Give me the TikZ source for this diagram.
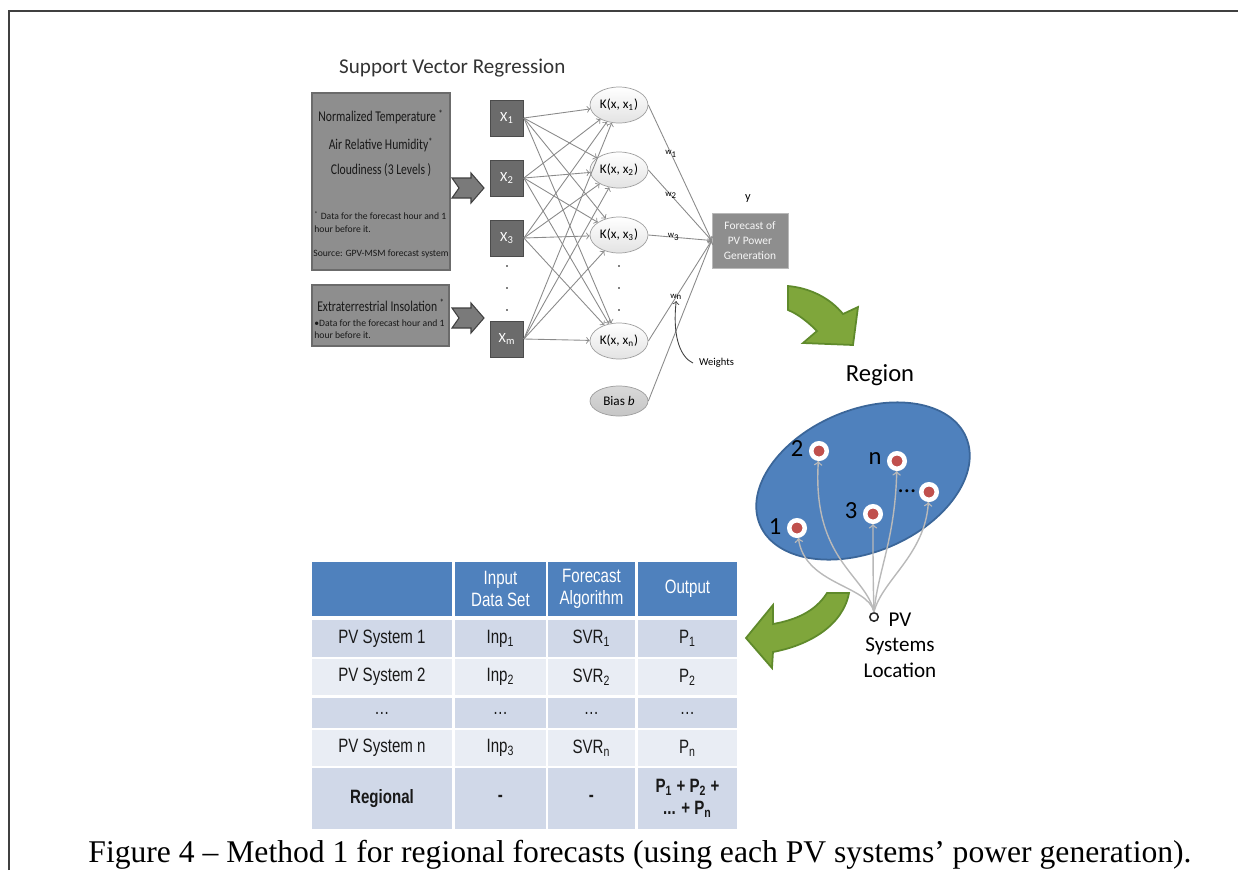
\documentclass[tikz,border=0pt]{standalone}
\usepackage{fontspec}
\setmainfont{Carlito}
\newfontfamily\narrowfont[FakeStretch=0.78]{Carlito}
\newfontfamily\tabfont[FakeStretch=0.78]{Liberation Sans}
\newfontfamily\capfont{Liberation Serif}
\usetikzlibrary{shapes.geometric}
\definecolor{boxgray}{HTML}{8E8E8E}
\definecolor{xgray}{HTML}{6B6B6B}
\definecolor{linegray}{HTML}{8A8A8A}
\definecolor{regionblue}{HTML}{4F81BD}
\definecolor{regionedge}{HTML}{3B6699}
\definecolor{sitered}{HTML}{C0504D}
\definecolor{arrowgreen}{HTML}{7FA63B}
\definecolor{arrowedge}{HTML}{5F8A2B}
\definecolor{rowdark}{HTML}{D0D8E8}
\definecolor{rowlight}{HTML}{E9EDF4}
\tikzset{
  databox/.style={draw=xgray, fill=boxgray, line width=0.8pt, inner sep=0pt},
  boxline/.style={text=black!90, font=\narrowfont\fontsize{8.5}{10}\selectfont},
  boxnote/.style={text=black!90, align=left, inner sep=0pt, font=\fontsize{5.5}{7}\selectfont},
  xnode/.style={draw=xgray!70!black, fill=xgray, text=white, minimum width=0.66cm, minimum height=0.72cm, inner sep=0pt, font=\fontsize{8}{9}\selectfont},
  knode/.style={ellipse, draw=gray!75, top color=white, bottom color=gray!22, minimum width=1.16cm, minimum height=0.72cm, inner sep=0pt, font=\fontsize{7.5}{9}\selectfont},
  conn/.style={draw=linegray, line width=0.5pt, ->},
  wlabel/.style={font=\fontsize{5}{6}\selectfont, inner sep=0.5pt},
  blockarrow/.style={fill=xgray!90, draw=xgray!60!black, line width=0.6pt},
  greenarrow/.style={fill=arrowgreen, draw=arrowedge, line width=1pt},
  site/.style={circle, fill=sitered, draw=white, line width=0.09cm, minimum size=0.31cm, inner sep=0pt},
  siteno/.style={font=\fontsize{14}{16}\selectfont},
  feed/.style={draw=gray!55, line width=0.8pt, ->},
  cell/.style={minimum height=#1, inner sep=0pt, align=center, text=black!90, font=\tabfont\fontsize{11}{12.5}\selectfont}
}
\begin{document}
\begin{tikzpicture}[x=0.02cm, y=-0.02cm]
\useasboundingbox (0,0) rectangle (1238,870);
\draw[line width=0.04cm, black!75] (9,870) -- (9,11) -- (1238,11);

\node[anchor=west, text=black!80, font=\fontsize{12}{14}\selectfont] (title) at (333,68) {Support Vector Regression};

\node[databox, minimum width=2.76cm, minimum height=3.54cm] (box1) at (381,181.5) {};
\node[boxline] (t11) at (381,117) {Normalized Temperature \textsuperscript{*}};
\node[boxline] (t12) at (381,145) {Air Relative Humidity\textsuperscript{*}};
\node[boxline] (t13) at (381,170) {Cloudiness\,(3 Levels\,)};
\node[boxnote, anchor=west] (t14) at (314,222) {\textsuperscript{*} Data for the forecast hour and 1\\hour before it.};
\node[boxnote] (t15) at (381,254) {Source: GPV-MSM forecast system};

\node[databox, minimum width=2.74cm, minimum height=1.22cm] (box2) at (380.5,315.5) {};
\node[boxline] (t21) at (381,305) {Extraterrestrial Insolation \textsuperscript{*}};
\node[boxnote, anchor=west] (t22) at (314,329) {\textbullet Data for the forecast hour and 1\\hour before it.};

\foreach \yc in {188,318}
  \filldraw[blockarrow] (452,\yc-10) -- (471,\yc-10) -- (471,\yc-15) -- (484,\yc) -- (471,\yc+15) -- (471,\yc+10) -- (452,\yc+10) -- (459,\yc) -- cycle;

\node[xnode] (x1) at (507,118) {X\textsubscript{1}};
\node[xnode] (x2) at (507,178) {X\textsubscript{2}};
\node[xnode] (x3) at (507,238) {X\textsubscript{3}};
\node[xnode] (xm) at (507,339) {X\textsubscript{m}};
\foreach \y in {266,288,310}
  {\fill (507,\y) circle (0.5pt);
   \fill (619,\y) circle (0.5pt);
  }

\node[knode] (k1) at (619,105) {K(x, x\textsubscript{1})};
\node[knode] (k2) at (619,170) {K(x, x\textsubscript{2})};
\node[knode] (k3) at (619,235) {K(x, x\textsubscript{3})};
\node[knode] (kn) at (619,341) {K(x, x\textsubscript{n})};
\node[knode, fill=gray!40, top color=gray!30, bottom color=gray!45, minimum height=0.6cm] (bias) at (619,401) {Bias \textit{b}};

\foreach \i in {x1,x2,x3,xm}
  \foreach \j in {k1,k2,k3,kn}
    \draw[conn] (\i.east) -- (\j);

\node[draw=gray!55, fill=boxgray, text=white!93!gray, minimum width=1.52cm, minimum height=1.1cm, align=center, inner sep=0pt, font=\fontsize{6.5}{8.5}\selectfont] (fc) at (750,240.5) {Forecast of\\PV Power\\Generation};
\node[font=\fontsize{7}{8}\selectfont] (y) at (748,199) {y};

\draw[conn] (k1.east) -- node[wlabel, pos=.36] (w1) {w\textsubscript{1}} (fc.west);
\draw[conn] (k2.east) -- node[wlabel, pos=.36] (w2) {w\textsubscript{2}} (fc.west);
\draw[conn] (k3.east) -- node[wlabel, pos=.40] (w3) {w\textsubscript{3}} (fc.west);
\draw[conn] (kn.east) -- node[wlabel, pos=.44] (wn) {w\textsubscript{n}} (fc.west);
\draw[conn] (bias.east) -- (fc.west);

\node[anchor=west, font=\fontsize{6}{7}\selectfont] (wts) at (693,363) {Weights};
\draw[->, black!75, line width=0.5pt] (wts.west) .. controls (682,358) and (672,340) .. (wn.south);

\filldraw[greenarrow] (788,286) .. controls (810,288) and (830,298) .. (843,314) -- (858,307) -- (853,345) -- (803,343) -- (817,331) .. controls (808,322) and (798,314) .. (788,310) -- cycle;

\node[font=\fontsize{14}{16}\selectfont] (regtitle) at (880,375) {Region};
\node[ellipse, rotate=23, draw=regionedge, fill=regionblue, line width=1pt, minimum width=4.48cm, minimum height=2.84cm] (region) at (863,481) {};

\node[site] (s1) at (797,528) {};
\node[site] (s2) at (819,451) {};
\node[site] (s3) at (873,514) {};
\node[site] (sn) at (897,461) {};
\node[site] (sd) at (929,492) {};
\node[siteno] (l1) at (775,527) {1};
\node[siteno] (l2) at (797,449) {2};
\node[siteno] (l3) at (851,511) {3};
\node[siteno] (ln) at (875,459) {n};
\node[siteno] (ld) at (907,491) {...};

\node[circle, draw=black!85, fill=white, line width=0.03cm, minimum size=0.17cm, inner sep=0pt] (loc) at (874,617) {};
\node[align=center, font=\fontsize{12}{14.5}\selectfont] (loctext) at (900,645) {PV\\Systems\\Location};

\draw[feed] (loc.north) .. controls (868,585) and (805,585) .. (s1);
\draw[feed] (loc.north) .. controls (866,575) and (812,560) .. (s2);
\draw[feed] (loc.north) .. controls (873,580) and (873,560) .. (s3);
\draw[feed] (loc.north) .. controls (878,570) and (895,540) .. (sn);
\draw[feed] (loc.north) .. controls (882,580) and (925,555) .. (sd);

\filldraw[greenarrow] (827,593) .. controls (815,612) and (795,620) .. (773,624) -- (773,605) -- (746,638) -- (772,668) -- (773,652) .. controls (810,645) and (843,625) .. (849,593) -- cycle;

\node[cell=1.08cm, fill=regionblue, minimum width=2.8cm] (h1) at (382,589) {};
\node[cell=1.08cm, fill=regionblue, text=white, minimum width=1.82cm] (h2) at (500.5,589) {Input\\Data Set};
\node[cell=1.08cm, fill=regionblue, text=white, minimum width=1.74cm] (h3) at (591.5,589) {Forecast\\Algorithm};
\node[cell=1.08cm, fill=regionblue, text=white, minimum width=1.98cm] (h4) at (687.5,589) {Output};

\foreach \rw/\yc/\rowh/\rowcol/\ca/\cb/\cc/\cd in {
  1/638.5/0.74cm/rowdark/PV System 1/Inp\textsubscript{1}/SVR\textsubscript{1}/P\textsubscript{1},
  2/677/0.72cm/rowlight/PV System 2/Inp\textsubscript{2}/SVR\textsubscript{2}/P\textsubscript{2},
  3/713/0.6cm/rowdark/\dots/\dots/\dots/\dots,
  4/748/0.72cm/rowlight/PV System n/Inp\textsubscript{3}/SVR\textsubscript{n}/P\textsubscript{n}}
  {\node[cell=\rowh, fill=\rowcol, minimum width=2.8cm] (r\rw c1) at (382,\yc) {\ca};
   \node[cell=\rowh, fill=\rowcol, minimum width=1.82cm] (r\rw c2) at (500.5,\yc) {\cb};
   \node[cell=\rowh, fill=\rowcol, minimum width=1.74cm] (r\rw c3) at (591.5,\yc) {\cc};
   \node[cell=\rowh, fill=\rowcol, minimum width=1.98cm] (r\rw c4) at (687.5,\yc) {\cd};
  }
\node[cell=1.22cm, fill=rowdark, minimum width=2.8cm] (r5c1) at (382,798.5) {\bfseries Regional};
\node[cell=1.22cm, fill=rowdark, minimum width=1.82cm] (r5c2) at (500.5,798.5) {\bfseries -};
\node[cell=1.22cm, fill=rowdark, minimum width=1.74cm] (r5c3) at (591.5,798.5) {\bfseries -};
\node[cell=1.22cm, fill=rowdark, minimum width=1.98cm] (r5c4) at (687.5,798.5) {\bfseries P\textsubscript{1} + P\textsubscript{2} +\\\bfseries ... + P\textsubscript{n}};

\node[anchor=base, inner sep=0pt, font=\capfont\fontsize{18}{21}\selectfont] (caption) at (640,862) {Figure 4 – Method 1 for regional forecasts (using each PV systems’ power generation).};
\end{tikzpicture}
\end{document}
